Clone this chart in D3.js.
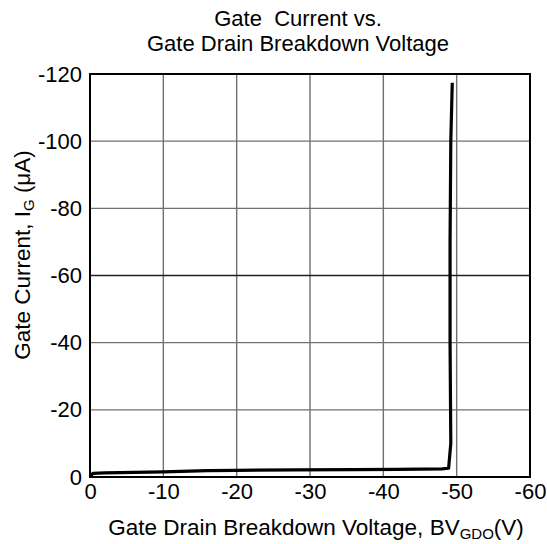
<!DOCTYPE html>
<html>
<head>
<meta charset="utf-8">
<script src="https://cdn.jsdelivr.net/npm/d3@7"></script>
<style>
  body { margin: 0; background: #fff; }
  text { font-family: "Liberation Sans", Arial, sans-serif; fill: #000; }
</style>
</head>
<body>
<svg id="chart" width="547" height="544"></svg>
<script>
// breakdown curve
var voltage = [0, -0.4, -2, -6, -10, -16, -20, -28, -36, -42, -48, -48.9, -49.2, -49.1, -49.1, -49.2, -49.4];
var current = [0, -1.1, -1.2, -1.4, -1.5, -1.9, -2.0, -2.1, -2.2, -2.3, -2.4, -2.6, -10, -40, -70, -100, -117.4];

var xTicks = [0, -10, -20, -30, -40, -50, -60];
var yTicks = [0, -20, -40, -60, -80, -100, -120];

var svg = d3.select("#chart");
var pLeft = 90, pRight = 530, pTop = 74, pBottom = 477;

var x = d3.scaleLinear().domain([0, -60]).range([pLeft, pRight]);
var y = d3.scaleLinear().domain([0, -120]).range([pBottom, pTop]);

// grid
svg.append("g").selectAll("line").data(xTicks.slice(1, -1)).enter().append("line")
  .attr("x1", d => x(d)).attr("x2", d => x(d))
  .attr("y1", pTop).attr("y2", pBottom)
  .attr("stroke", "#707070").attr("stroke-width", 1.4);
svg.append("g").selectAll("line").data(yTicks.slice(1, -1)).enter().append("line")
  .attr("x1", pLeft).attr("x2", pRight)
  .attr("y1", d => y(d)).attr("y2", d => y(d))
  .attr("stroke", d => d == -60 ? "#222" : "#707070").attr("stroke-width", 1.4);

// axes (labels only, frame drawn separately)
var xAxis = svg.append("g").attr("transform", "translate(0," + pBottom + ")")
  .call(d3.axisBottom(x).tickValues(xTicks).tickSize(0).tickPadding(6).tickFormat(d3.format("d")));
var yAxis = svg.append("g").attr("transform", "translate(" + (pLeft - 8) + ",0)")
  .call(d3.axisLeft(y).tickValues(yTicks).tickSize(0).tickPadding(0).tickFormat(d3.format("d")));
[xAxis, yAxis].forEach(function(a) {
  a.select(".domain").remove();
  a.selectAll("text").style("font-size", "22px").attr("fill", "#000")
    .style("font-family", '"Liberation Sans", Arial, sans-serif');
});
xAxis.selectAll("text").text(d => d == 0 ? "0" : "-" + Math.abs(d));
yAxis.selectAll("text").text(d => d == 0 ? "0" : "-" + Math.abs(d));

// frame
svg.append("rect").attr("x", pLeft).attr("y", pTop)
  .attr("width", pRight - pLeft).attr("height", pBottom - pTop)
  .attr("fill", "none").attr("stroke", "#000").attr("stroke-width", 2);

// curve
var line = d3.line().x((d, i) => x(voltage[i])).y(d => y(d));
svg.append("path").datum(current)
  .attr("d", line)
  .attr("fill", "none").attr("stroke", "#000").attr("stroke-width", 3.2)
  .attr("stroke-linejoin", "round");

// title
svg.append("text").attr("x", 298).attr("y", 26).attr("text-anchor", "middle")
  .style("font-size", "22px").style("white-space", "pre").text("Gate  Current vs.");
svg.append("text").attr("x", 298).attr("y", 51).attr("text-anchor", "middle")
  .style("font-size", "22px").text("Gate Drain Breakdown Voltage");

// x title
var xt = svg.append("text").attr("x", 316).attr("y", 535).attr("text-anchor", "middle")
  .style("font-size", "22.5px");
xt.append("tspan").text("Gate Drain Breakdown Voltage, BV");
xt.append("tspan").attr("dy", 4).style("font-size", "15px").text("GDO");
xt.append("tspan").attr("dy", -4).text("(V)");

// y title
var yt = svg.append("text").attr("transform", "translate(30,255) rotate(-90)")
  .attr("text-anchor", "middle").style("font-size", "22.5px");
yt.append("tspan").text("Gate Current, I");
yt.append("tspan").attr("dy", 4).style("font-size", "15px").text("G");
yt.append("tspan").attr("dy", -4).text(" (\u03bcA)");
</script>
</body>
</html>
